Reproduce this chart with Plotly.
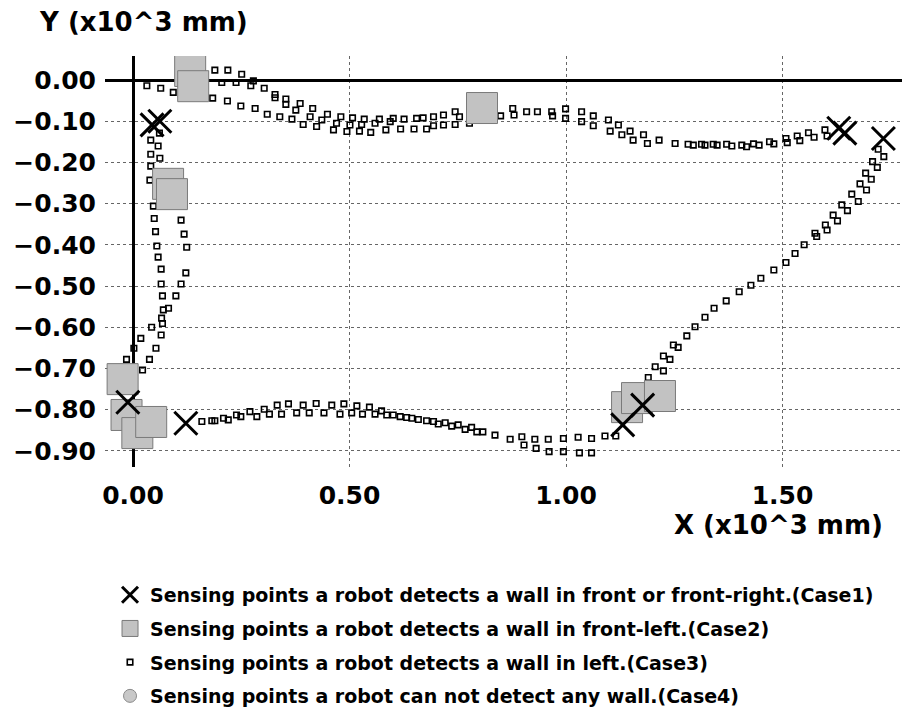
import plotly.graph_objects as go

# ---- data (x10^3 mm) ----
# Case3: sensing points, wall on left (small open squares), split by path segment
top_pts = [(0.032, -0.014), (0.064, -0.020), (0.093, -0.030), (0.184, -0.044), (0.189, 0.024),
           (0.205, -0.006), (0.218, -0.051), (0.219, 0.024), (0.238, -0.006), (0.249, -0.063),
           (0.251, 0.014), (0.272, -0.014), (0.278, -0.002), (0.282, -0.069), (0.303, -0.020),
           (0.310, -0.083), (0.328, -0.035), (0.328, -0.043), (0.339, -0.089), (0.353, -0.046),
           (0.353, -0.059), (0.367, -0.095), (0.376, -0.073), (0.386, -0.057), (0.393, -0.108),
           (0.409, -0.089), (0.415, -0.069), (0.424, -0.113), (0.436, -0.097), (0.449, -0.083),
           (0.463, -0.121), (0.470, -0.105), (0.480, -0.089), (0.494, -0.125), (0.501, -0.109),
           (0.507, -0.092), (0.523, -0.124), (0.528, -0.108), (0.534, -0.095), (0.549, -0.127),
           (0.559, -0.105), (0.569, -0.095), (0.584, -0.121), (0.594, -0.101), (0.601, -0.093),
           (0.618, -0.119), (0.626, -0.095), (0.649, -0.119), (0.655, -0.093), (0.670, -0.092),
           (0.678, -0.119), (0.694, -0.089), (0.694, -0.111), (0.717, -0.085), (0.717, -0.109),
           (0.744, -0.077), (0.744, -0.108), (0.754, -0.089), (0.777, -0.105), (0.849, -0.087),
           (0.877, -0.069), (0.880, -0.085), (0.909, -0.077), (0.934, -0.077), (0.967, -0.077),
           (0.969, -0.087), (0.999, -0.070), (0.999, -0.093), (1.036, -0.077), (1.036, -0.101),
           (1.063, -0.087), (1.063, -0.111), (1.098, -0.097), (1.102, -0.124), (1.121, -0.109),
           (1.129, -0.133), (1.148, -0.124), (1.155, -0.146), (1.179, -0.133), (1.188, -0.154),
           (1.215, -0.146), (1.252, -0.154), (1.282, -0.156), (1.294, -0.158), (1.313, -0.156),
           (1.321, -0.158), (1.340, -0.156), (1.349, -0.158), (1.371, -0.156), (1.383, -0.160),
           (1.406, -0.158), (1.417, -0.162), (1.433, -0.155), (1.446, -0.158), (1.470, -0.150),
           (1.480, -0.155), (1.508, -0.142), (1.511, -0.152), (1.534, -0.136), (1.540, -0.147),
           (1.560, -0.128), (1.573, -0.139), (1.598, -0.121), (1.603, -0.136)]

right_pts = [(1.721, -0.168), (1.734, -0.186), (1.708, -0.198), (1.719, -0.212), (1.692, -0.226),
             (1.705, -0.241), (1.679, -0.252), (1.694, -0.267), (1.660, -0.277), (1.675, -0.295),
             (1.637, -0.303), (1.650, -0.317), (1.617, -0.328), (1.627, -0.342), (1.599, -0.352),
             (1.603, -0.364), (1.575, -0.372), (1.579, -0.380), (1.550, -0.400), (1.529, -0.421),
             (1.508, -0.443), (1.480, -0.461), (1.450, -0.481), (1.427, -0.498), (1.400, -0.514),
             (1.370, -0.536), (1.342, -0.554), (1.321, -0.576), (1.298, -0.599), (1.279, -0.621),
             (1.248, -0.643), (1.259, -0.649), (1.225, -0.670), (1.240, -0.678), (1.206, -0.696),
             (1.225, -0.706), (1.190, -0.722)]

bottom_pts = [(1.115, -0.864), (1.090, -0.864), (1.059, -0.870), (1.028, -0.867), (0.994, -0.870),
              (0.959, -0.872), (0.928, -0.872), (0.898, -0.866), (0.871, -0.872), (0.836, -0.862),
              (0.808, -0.854), (0.903, -0.886), (0.931, -0.894), (0.961, -0.902), (0.994, -0.902),
              (1.031, -0.905), (1.059, -0.905),
              (0.159, -0.829), (0.182, -0.827), (0.189, -0.827), (0.209, -0.821), (0.220, -0.825),
              (0.239, -0.813), (0.249, -0.817), (0.270, -0.805), (0.286, -0.817), (0.303, -0.799),
              (0.315, -0.811), (0.333, -0.789), (0.343, -0.811), (0.359, -0.786), (0.378, -0.808),
              (0.393, -0.789), (0.407, -0.808), (0.423, -0.785), (0.441, -0.808), (0.459, -0.789),
              (0.478, -0.811), (0.487, -0.786), (0.505, -0.808), (0.517, -0.791), (0.530, -0.811),
              (0.546, -0.794), (0.559, -0.811), (0.574, -0.803), (0.586, -0.813), (0.601, -0.813),
              (0.617, -0.817), (0.632, -0.819), (0.644, -0.821), (0.659, -0.824), (0.678, -0.827),
              (0.694, -0.829), (0.705, -0.835), (0.721, -0.832), (0.736, -0.840), (0.751, -0.837),
              (0.767, -0.848), (0.782, -0.843), (0.794, -0.854)]

left_pts = [(0.061, -0.129), (0.041, -0.146), (0.058, -0.160), (0.041, -0.180), (0.062, -0.190),
            (0.041, -0.209), (0.039, -0.243), (0.047, -0.306), (0.049, -0.336), (0.111, -0.340),
            (0.052, -0.368), (0.118, -0.374), (0.055, -0.403), (0.124, -0.406), (0.058, -0.430),
            (0.065, -0.459), (0.122, -0.468), (0.065, -0.495), (0.111, -0.495), (0.068, -0.524),
            (0.099, -0.524), (0.070, -0.558), (0.082, -0.554), (0.066, -0.578), (0.068, -0.591),
            (0.043, -0.600), (0.065, -0.619), (0.018, -0.627), (0.053, -0.651), (0.002, -0.651),
            (0.038, -0.678), (-0.015, -0.678), (0.022, -0.704)]

# Case1: wall in front / front-right (X marks)
case1_pts = [(0.044, -0.109), (0.062, -0.100), (-0.012, -0.782), (0.122, -0.833),
             (1.131, -0.837), (1.177, -0.789), (1.630, -0.117), (1.644, -0.129), (1.733, -0.142)]

# Case2: wall in front-left (large gray squares)
case2_pts = [(0.132, 0.022), (0.139, -0.015), (0.081, -0.252), (0.090, -0.277), (0.806, -0.068),
             (-0.024, -0.726), (-0.015, -0.813), (0.010, -0.857), (0.042, -0.830),
             (1.141, -0.794), (1.164, -0.772), (1.217, -0.767)]

# Case4: no wall detected (no points in plot)
case4_pts = []

x_ticks = [0.0, 0.5, 1.0, 1.5]
y_ticks = [0.0, -0.1, -0.2, -0.3, -0.4, -0.5, -0.6, -0.7, -0.8, -0.9]

legend_labels = [
    "Sensing points a robot detects a wall in front or front-right.(Case1)",
    "Sensing points a robot detects a wall in front-left.(Case2)",
    "Sensing points a robot detects a wall in left.(Case3)",
    "Sensing points a robot can not detect any wall.(Case4)",
]

case3_pts = top_pts + right_pts + bottom_pts + left_pts


def xs(pts):
    return [p[0] for p in pts]


def ys(pts):
    return [p[1] for p in pts]


FONT = "DejaVu Sans"

fig = go.Figure()

fig.add_trace(go.Scatter(
    x=xs(case3_pts), y=ys(case3_pts), mode="markers", name=legend_labels[2],
    legendgroup="c3", legendrank=3,
    marker=dict(symbol="square-open", size=5.5, color="black", line=dict(width=1.6, color="black")),
))
fig.add_trace(go.Scatter(
    x=xs(case2_pts), y=ys(case2_pts), mode="markers", name=legend_labels[1],
    legendgroup="c2", legendrank=2,
    marker=dict(symbol="square", size=31, color="#c2c2c2", line=dict(width=1, color="#7a7a7a")),
))
fig.add_trace(go.Scatter(
    x=xs(case1_pts), y=ys(case1_pts), mode="markers", name=legend_labels[0],
    legendgroup="c1", legendrank=1,
    marker=dict(symbol="x-thin", size=23, color="black", line=dict(width=3, color="black")),
))
fig.add_trace(go.Scatter(
    x=xs(case4_pts) or [None], y=ys(case4_pts) or [None], mode="markers", name=legend_labels[3],
    legendgroup="c4", legendrank=4,
    marker=dict(symbol="circle", size=13, color="#c8c8c8", line=dict(width=1, color="#8a8a8a")),
))

fig.update_layout(
    width=902, height=720,
    margin=dict(l=105, r=0, t=56, b=253),
    paper_bgcolor="white", plot_bgcolor="white",
    font=dict(family=FONT, color="black"),
    showlegend=True,
    legend=dict(
        x=0.0063, xanchor="left", y=-0.265, yanchor="top",
        font=dict(family=FONT, size=19, color="black", weight="bold"),
        itemsizing="trace", tracegroupgap=6, traceorder="grouped",
        bgcolor="rgba(0,0,0,0)",
    ),
    xaxis=dict(
        range=[-0.0647, 1.776], tickvals=x_ticks, tickformat=".2f",
        showgrid=True, gridcolor="#666", gridwidth=1, griddash="dot",
        zeroline=True, zerolinecolor="black", zerolinewidth=3,
        showline=False, ticks="", ticklabelstandoff=11,
        tickfont=dict(family=FONT, size=25, color="black", weight="bold"),
    ),
    yaxis=dict(
        range=[-0.9393, 0.0583], tickvals=y_ticks, tickformat=".2f",
        showgrid=True, gridcolor="#666", gridwidth=1, griddash="dot",
        zeroline=True, zerolinecolor="black", zerolinewidth=3,
        showline=False, ticks="", ticklabelstandoff=8,
        tickfont=dict(family=FONT, size=25, color="black", weight="bold"),
    ),
    annotations=[
        dict(text="Y (x10^3 mm)", xref="paper", yref="paper", x=-0.0853, y=1.083,
             xanchor="left", yanchor="middle", showarrow=False,
             font=dict(family=FONT, size=26, color="black", weight="bold")),
        dict(text="X (x10^3 mm)", xref="paper", yref="paper", x=0.9787, y=-0.141,
             xanchor="right", yanchor="middle", showarrow=False,
             font=dict(family=FONT, size=26, color="black", weight="bold")),
    ],
)

fig.write_html("out.html", config={"displayModeBar": False},
               post_script="document.body.style.margin='0';")
